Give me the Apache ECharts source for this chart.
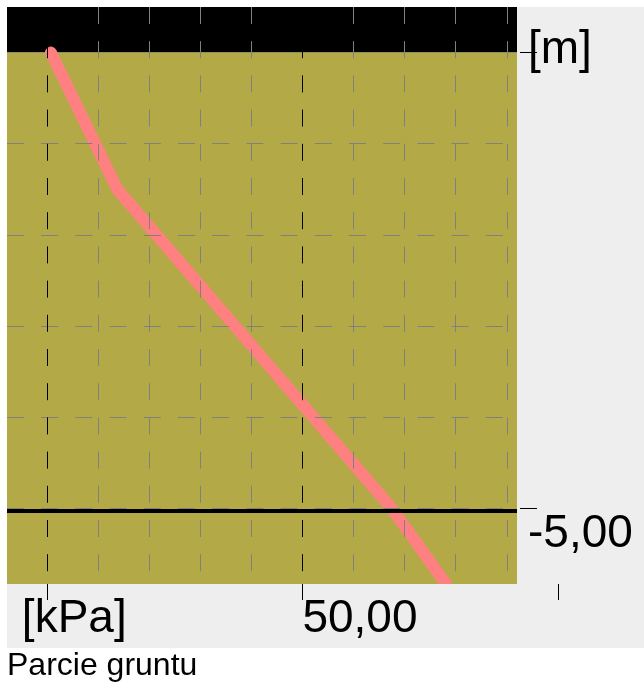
<!DOCTYPE html>
<html>
<head>
<meta charset="utf-8">
<script src="https://cdn.jsdelivr.net/npm/echarts@6/dist/echarts.min.js"></script>
<style>
  html, body { margin: 0; padding: 0; background: #ffffff; }
  #chart { width: 644px; height: 690px; }
</style>
</head>
<body>
<div id="chart"></div>
<script>
// ---- data ----
const titleText = 'Parcie gruntu';
const xTickValues = [0, 50, 100];
const xTickLabels = ['[kPa]', '50,00', ''];
const yTickValues = [0, -5];
const yTickLabels = ['[m]', '-5,00'];
const xGridMinor = [10, 20, 30, 40, 60, 70, 80, 90];
const xGridMajor = [0, 50];
const yGridValues = [-1, -2, -3, -4, -5];
const xMin = -7.8, xMax = 92, xMaxOuter = 110;
const yMin = -5.83, yMax = 0.5;
const groundLevel = 0;
const layerBoundary = -5.03;
const pressureKPa = [0.8, 13.8, 67.5, 78.1];
const depthM = [0, -1.5, -5, -5.83];

// ---- build ----
const FONT = 'Liberation Sans, Arial, sans-serif';
const pressureData = pressureKPa.map((p, i) => [p, depthM[i]]);

function vLines(values) {
  return values.map(v => [{ xAxis: v, yAxis: yMax }, { xAxis: v, yAxis: yMin }]);
}
const dash = [17, 17.2];
const labelFont = { fontSize: 46, lineHeight: 46, fontFamily: FONT, color: '#000' };

const chart = echarts.init(document.getElementById('chart'));
const panel = {
  type: 'rect', id: 'panel', z: -100, silent: true,
  shape: { x: 7, y: 7, width: 637, height: 641 },
  style: { fill: '#eeeeee' }
};
chart.setOption({
  animation: false,
  backgroundColor: '#ffffff',
  textStyle: { fontFamily: FONT },
  graphic: [panel],
  title: {
    text: titleText, left: 7, top: 650, padding: 0,
    textStyle: { fontSize: 32, lineHeight: 32, fontWeight: 'normal', color: '#000', fontFamily: FONT }
  },
  grid: [
    { left: 7, top: 7, width: 510, height: 577, containLabel: false },
    { left: 7, top: 7, width: 602, height: 577, containLabel: false }
  ],
  xAxis: [
    { type: 'value', gridIndex: 0, min: xMin, max: xMax, show: false, axisLine: { onZero: false } },
    {
      type: 'value', gridIndex: 1, min: xMin, max: xMaxOuter, position: 'bottom', z: 20,
      axisLine: { show: false, onZero: false },
      splitLine: { show: false },
      axisTick: { show: true, customValues: xTickValues, length: 16, lineStyle: { color: '#000', width: 1 } },
      axisLabel: {
        show: true, customValues: [xTickValues[1]], margin: 12, align: 'left', verticalAlign: 'top',
        formatter: v => {
          const i = xTickValues.indexOf(v);
          return i < 0 ? '' : xTickLabels[i];
        },
        fontSize: 46, lineHeight: 46, fontFamily: FONT, color: '#000'
      }
    }
  ],
  yAxis: [
    {
      type: 'value', gridIndex: 0, min: yMin, max: yMax, position: 'right', offset: 3, z: 20,
      axisLine: { show: false, onZero: false },
      splitLine: { show: false },
      axisTick: { show: true, customValues: yTickValues, length: 17, lineStyle: { color: '#000', width: 1 } },
      axisLabel: {
        show: true, customValues: yTickValues, margin: 8, align: 'left', verticalAlign: 'middle',
        formatter: v => {
          const i = yTickValues.indexOf(v);
          return i < 0 ? '' : '{m' + i + '|' + yTickLabels[i] + '}';
        },
        rich: {
          m0: Object.assign({}, labelFont, { padding: [0, 0, 5, 0] }),
          m1: Object.assign({}, labelFont, { padding: [51, 0, 0, 0] })
        }
      }
    },
    { type: 'value', gridIndex: 1, min: yMin, max: yMax, show: false, axisLine: { onZero: false } }
  ],
  series: [
    {
      type: 'line', xAxisIndex: 0, yAxisIndex: 0, data: [], z: 1, silent: true,
      markArea: {
        silent: true,
        data: [
          [{ yAxis: yMax, itemStyle: { color: '#000000' } }, { yAxis: groundLevel }],
          [{ yAxis: groundLevel, itemStyle: { color: '#b3a946' } }, { yAxis: yMin }]
        ]
      }
    },
    {
      type: 'line', xAxisIndex: 0, yAxisIndex: 0, z: 2,
      data: pressureData, showSymbol: false, symbol: 'none',
      lineStyle: { color: '#ff8080', width: 12, cap: 'round', join: 'miter' },
      clip: true
    },
    {
      type: 'line', xAxisIndex: 0, yAxisIndex: 0, data: [], z: 3, silent: true,
      markLine: {
        silent: true, symbol: 'none', label: { show: false },
        lineStyle: { color: '#808080', width: 1, type: dash },
        data: yGridValues.map(v => ({ yAxis: v })).concat(vLines(xGridMinor))
      }
    },
    {
      type: 'line', xAxisIndex: 0, yAxisIndex: 0, data: [], z: 4, silent: true,
      markLine: {
        silent: true, symbol: 'none', label: { show: false },
        lineStyle: { color: '#000000', width: 1, type: dash },
        data: vLines(xGridMajor)
      }
    },
    {
      type: 'line', xAxisIndex: 0, yAxisIndex: 0, data: [], z: 5, silent: true,
      markLine: {
        silent: true, symbol: 'none', label: { show: false },
        lineStyle: { color: '#000000', width: 4, type: 'solid' },
        data: [{ yAxis: layerBoundary }]
      }
    }
  ]
});

// unit label of the x axis anchored to the library's pixel for its tick,
// plus a panel-coloured strip that trims the line cap at the plot's lower edge
const x0 = chart.convertToPixel({ xAxisIndex: 1 }, xTickValues[0]);
const plotBottom = chart.convertToPixel({ yAxisIndex: 0 }, yMin);
const plotLeft = chart.convertToPixel({ xAxisIndex: 0 }, xMin);
const plotRight = chart.convertToPixel({ xAxisIndex: 0 }, xMax);
chart.setOption({
  graphic: [panel, {
    type: 'rect', id: 'trim', z: 10, silent: true,
    shape: { x: plotLeft, y: plotBottom, width: plotRight - plotLeft, height: 8 },
    style: { fill: '#eeeeee' }
  }, {
    type: 'text', id: 'xunit', z: 30, silent: true,
    x: x0 - 25, y: plotBottom + 12,
    style: {
      text: xTickLabels[0], fontSize: 46, lineHeight: 46, fontFamily: FONT,
      fill: '#000', align: 'left', verticalAlign: 'top'
    }
  }]
});
</script>
</body>
</html>
